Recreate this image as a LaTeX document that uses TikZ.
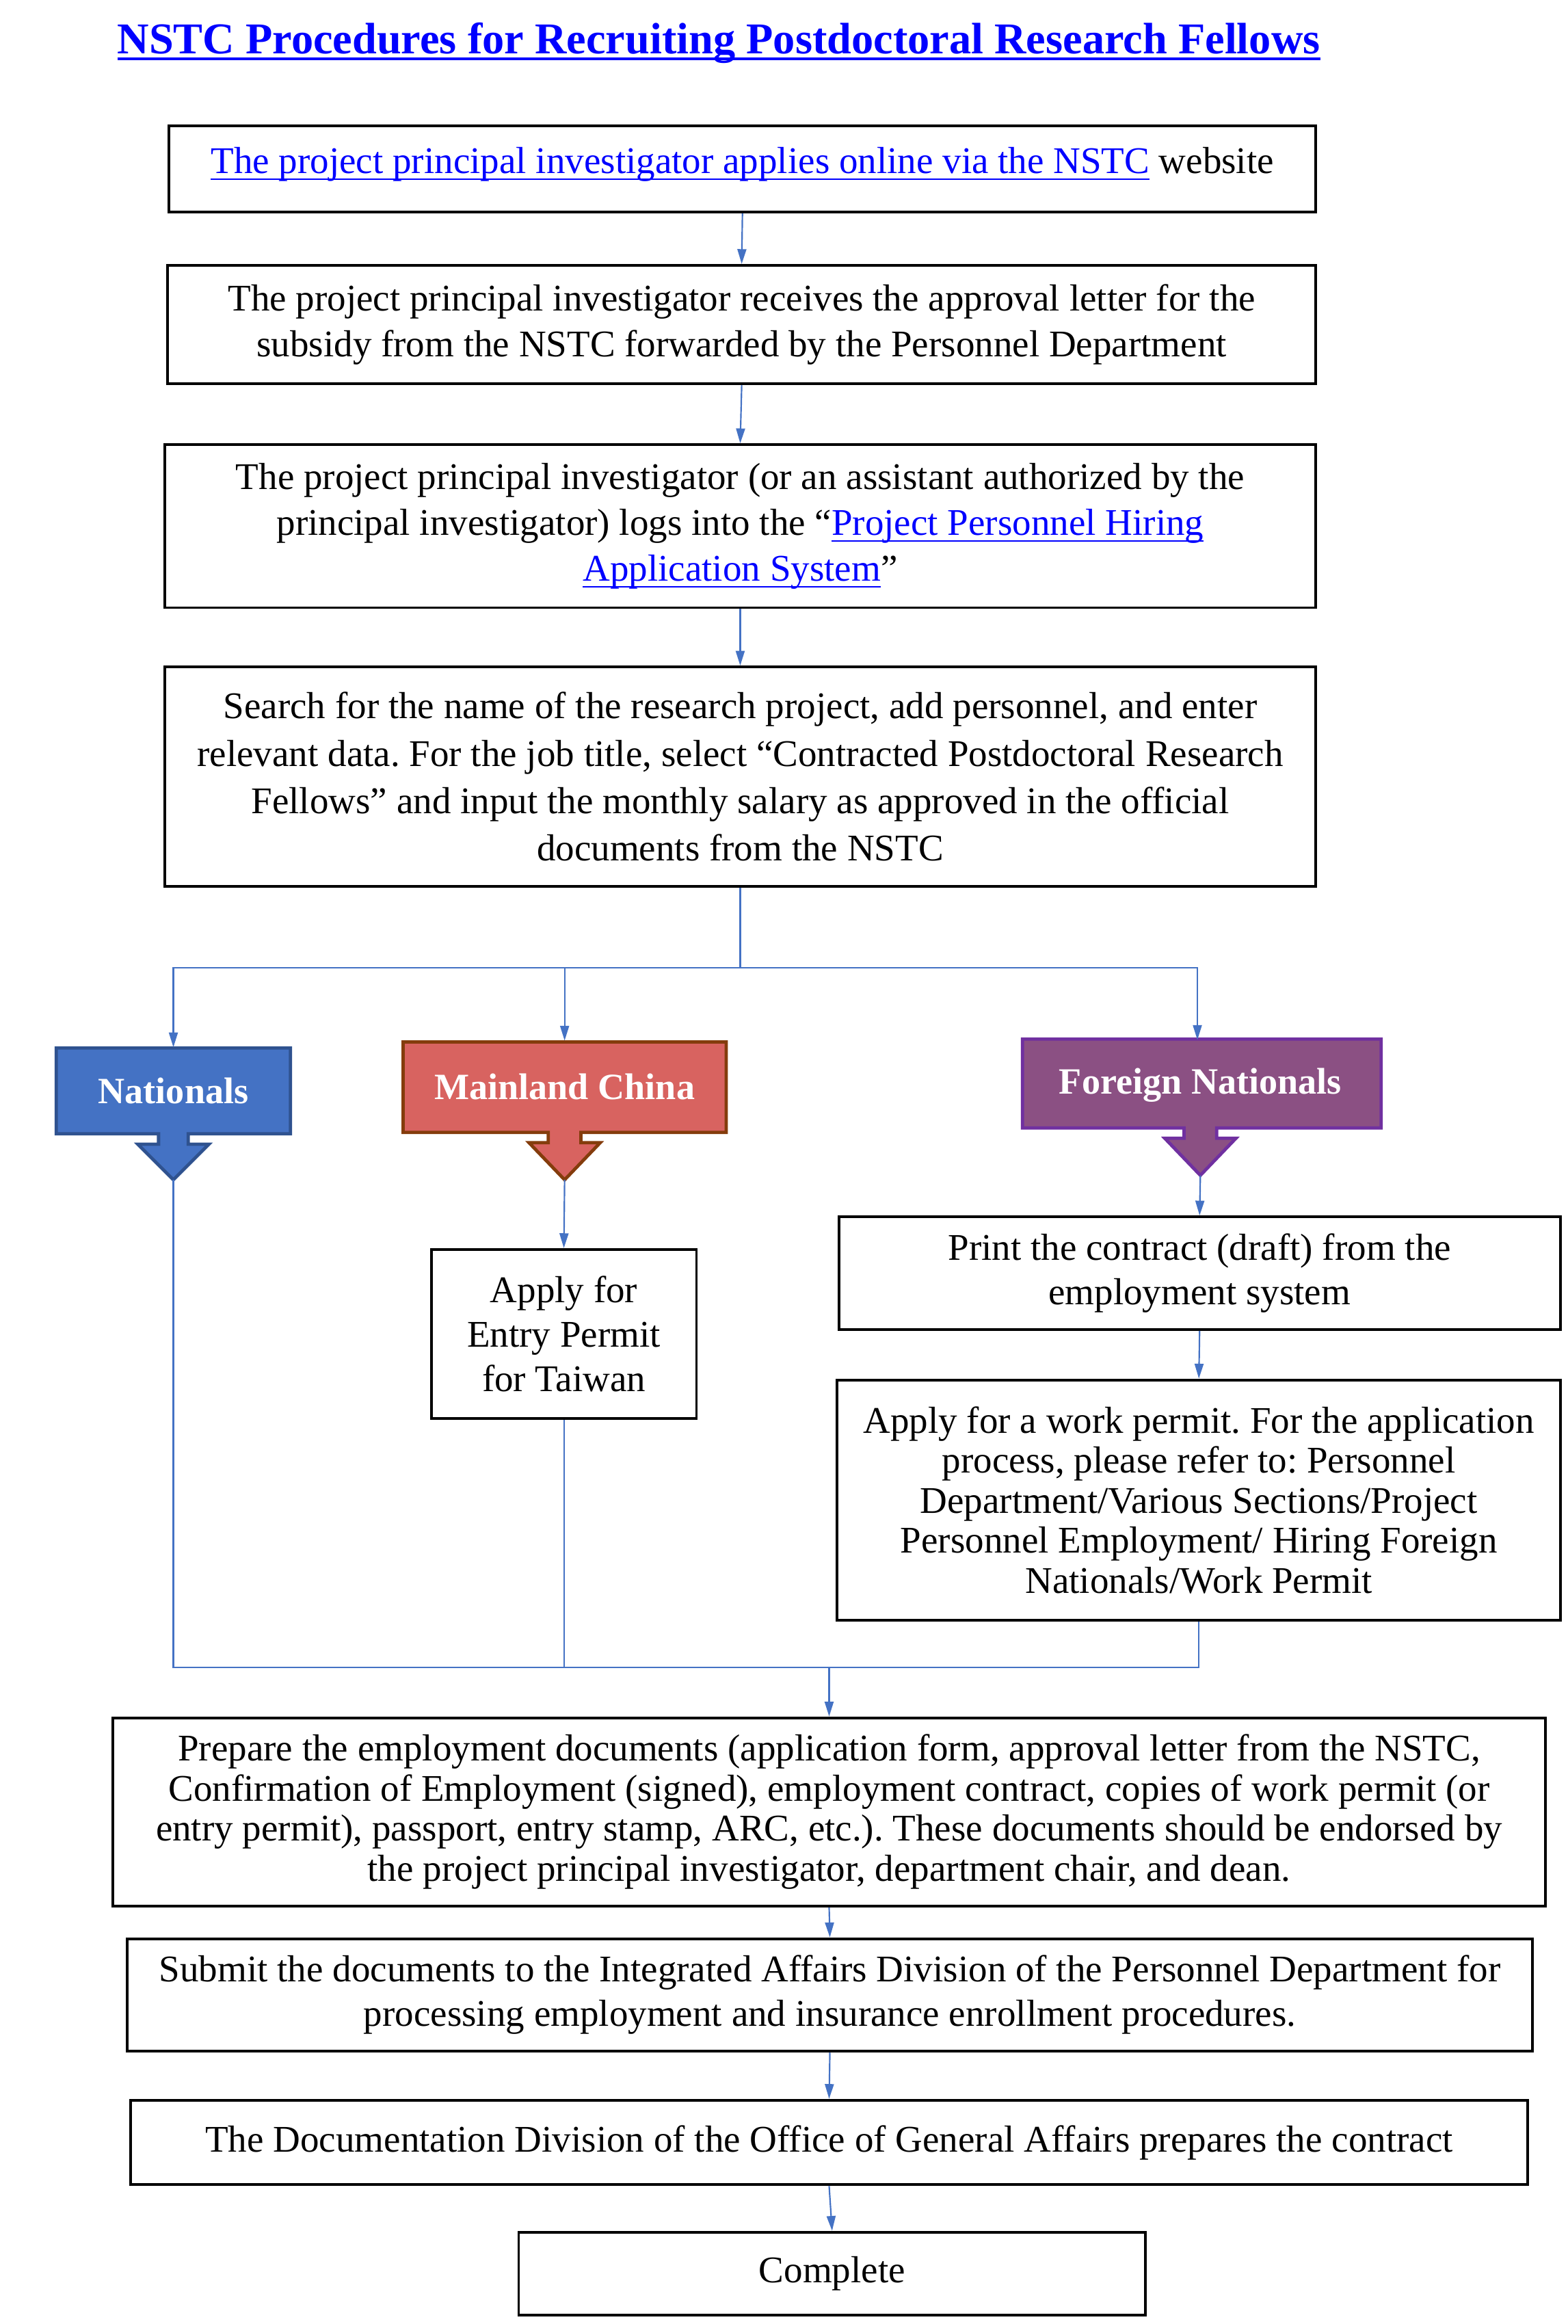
\documentclass[tikz,border=0pt]{standalone}
\usepackage{fontspec}
\setmainfont{Liberation Serif}
\usetikzlibrary{arrows.meta}
\frenchspacing
\definecolor{linkblue}{HTML}{0000FF}
\definecolor{conn}{HTML}{4472C4}
\definecolor{natfill}{HTML}{4472C4}
\definecolor{natline}{HTML}{2F528F}
\definecolor{mcfill}{HTML}{D86360}
\definecolor{mcline}{HTML}{843C0C}
\definecolor{fnfill}{HTML}{8B5083}
\definecolor{fnline}{HTML}{7030A0}
\newsavebox{\linkbox}
\newcommand{\weblink}[2][0.5pt]{{\color{linkblue}\sbox{\linkbox}{#2}%
  \rlap{\rule[-2.2pt]{\wd\linkbox}{#1}}\usebox{\linkbox}}}
\tikzset{
  box/.style={draw, line width=0.9pt, inner sep=0pt, align=center,
    font=\fontsize{12.7}{15.5}\selectfont},
  headtext/.style={inner sep=0pt, text=white, font=\fontsize{12.5}{15}\selectfont\bfseries},
  callout/.style={line width=1.1pt, line join=miter},
  arr/.style={draw=conn, line width=0.5pt, -{Triangle[length=5pt,width=3pt]}},
  conline/.style={draw=conn, line width=0.5pt}
}
\begin{document}
\begin{tikzpicture}[x=0.5pt,y=-0.5pt]
\useasboundingbox (0,0) rectangle (1058,1568);
% title
\node[inner sep=0pt, font=\fontsize{14.85}{18}\selectfont\bfseries] (title) at (485,29)
  {\weblink[0.8pt]{NSTC Procedures for Recruiting Postdoctoral Research Fellows}};
% main steps
\node[box, minimum width=387pt, minimum height=29pt, text height=9pt, text depth=6pt] (apply) at (501,114)
  {\weblink{The project principal investigator applies online via the NSTC} website};
\node[box, minimum width=387.5pt, minimum height=40pt] (letter) at (500.5,219)
  {The project principal investigator receives the approval letter for the\\
   subsidy from the NSTC forwarded by the Personnel Department};
\node[box, minimum width=388.5pt, minimum height=55pt] (login) at (499.5,355)
  {The project principal investigator (or an assistant authorized by the\\
   principal investigator) logs into the “\weblink{Project Personnel Hiring}\\
   \weblink{Application System}”};
\node[box, minimum width=388.5pt, minimum height=74pt,
  font=\fontsize{12.7}{16}\selectfont] (search) at (499.5,524)
  {Search for the name of the research project, add personnel, and enter\\
   relevant data. For the job title, select “Contracted Postdoctoral Research\\
   Fellows” and input the monthly salary as approved in the official\\
   documents from the NSTC};
% three groups
\draw[callout, fill=natfill, draw=natline] (38,707) -- (196,707) -- (196,765) -- (127,765)
  -- (127,772) -- (141,772) -- (117,796) -- (93,772) -- (107,772) -- (107,765) -- (38,765) -- cycle;
\node[headtext, minimum width=79pt, minimum height=29pt] (nat) at (117,736) {Nationals};
\coordinate (natTip) at (117,796);
\draw[callout, fill=mcfill, draw=mcline] (272,703) -- (490,703) -- (490,764) -- (392,764)
  -- (392,771) -- (405,771) -- (381,796) -- (357,771) -- (370,771) -- (370,764) -- (272,764) -- cycle;
\node[headtext, minimum width=109pt, minimum height=30.5pt] (mc) at (381,733) {Mainland China};
\coordinate (mcTip) at (381,796);
\draw[callout, fill=fnfill, draw=fnline] (690,701) -- (932,701) -- (932,761) -- (821,761)
  -- (821,768) -- (834,768) -- (810,793) -- (786,768) -- (799,768) -- (799,761) -- (690,761) -- cycle;
\node[headtext, minimum width=121pt, minimum height=30pt] (fn) at (810,732) {Foreign Nationals};
\coordinate (fnTip) at (810,793);
% branch boxes
\node[box, minimum width=89.5pt, minimum height=57pt, font=\fontsize{12.7}{15}\selectfont]
  (entry) at (380.5,900) {Apply for\\ Entry Permit\\ for Taiwan};
\node[box, minimum width=243.5pt, minimum height=38pt, font=\fontsize{12.7}{15}\selectfont]
  (print) at (809.5,859) {Print the contract (draft) from the\\ employment system};
\node[box, minimum width=244pt, minimum height=81pt, font=\fontsize{12.7}{13.5}\selectfont]
  (permit) at (809,1012)
  {Apply for a work permit. For the application\\
   process, please refer to: Personnel\\
   Department/Various Sections/Project\\
   Personnel Employment/ Hiring Foreign\\
   Nationals/Work Permit};
% final steps
\node[box, minimum width=483.5pt, minimum height=63.5pt, font=\fontsize{12.7}{13.5}\selectfont]
  (docs) at (559.5,1222.5)
  {Prepare the employment documents (application form, approval letter from the NSTC,\\
   Confirmation of Employment (signed), employment contract, copies of work permit (or\\
   entry permit), passport, entry stamp, ARC, etc.). These documents should be endorsed by\\
   the project principal investigator, department chair, and dean.};
\node[box, minimum width=474pt, minimum height=38pt, font=\fontsize{12.7}{15}\selectfont]
  (submit) at (560,1346)
  {Submit the documents to the Integrated Affairs Division of the Personnel Department for\\
   processing employment and insurance enrollment procedures.};
\node[box, minimum width=471.5pt, minimum height=28.5pt] (contract) at (559.5,1445.5)
  {The Documentation Division of the Office of General Affairs prepares the contract};
\node[box, minimum width=211.5pt, minimum height=28pt] (done) at (561.5,1534) {Complete};
% connectors
\coordinate (split) at (499.5,653);
\coordinate (merge) at (559.5,1125);
\draw[arr] (apply.south) -- (letter.north);
\draw[arr] (letter.south) -- (login.north);
\draw[arr] (login.south) -- (search.north);
\draw[conline] (search.south) -- (split);
\draw[arr] (split) -| (nat.north);
\draw[arr] (split) -| (mc.north);
\draw[arr] (split) -| ([xshift=-1pt]fn.north);
\draw[arr] (mcTip) -- (entry.north);
\draw[arr] (fnTip) -- (print.north);
\draw[arr] (print.south) -- (permit.north);
\draw[conline] (natTip) |- (merge);
\draw[conline] (entry.south) |- (merge);
\draw[conline] (permit.south) |- (merge);
\draw[arr] (merge) -- (docs.north);
\draw[arr] (docs.south) -- (submit.north);
\draw[arr] (submit.south) -- (contract.north);
\draw[arr] (contract.south) -- (done.north);
\end{tikzpicture}
\end{document}
